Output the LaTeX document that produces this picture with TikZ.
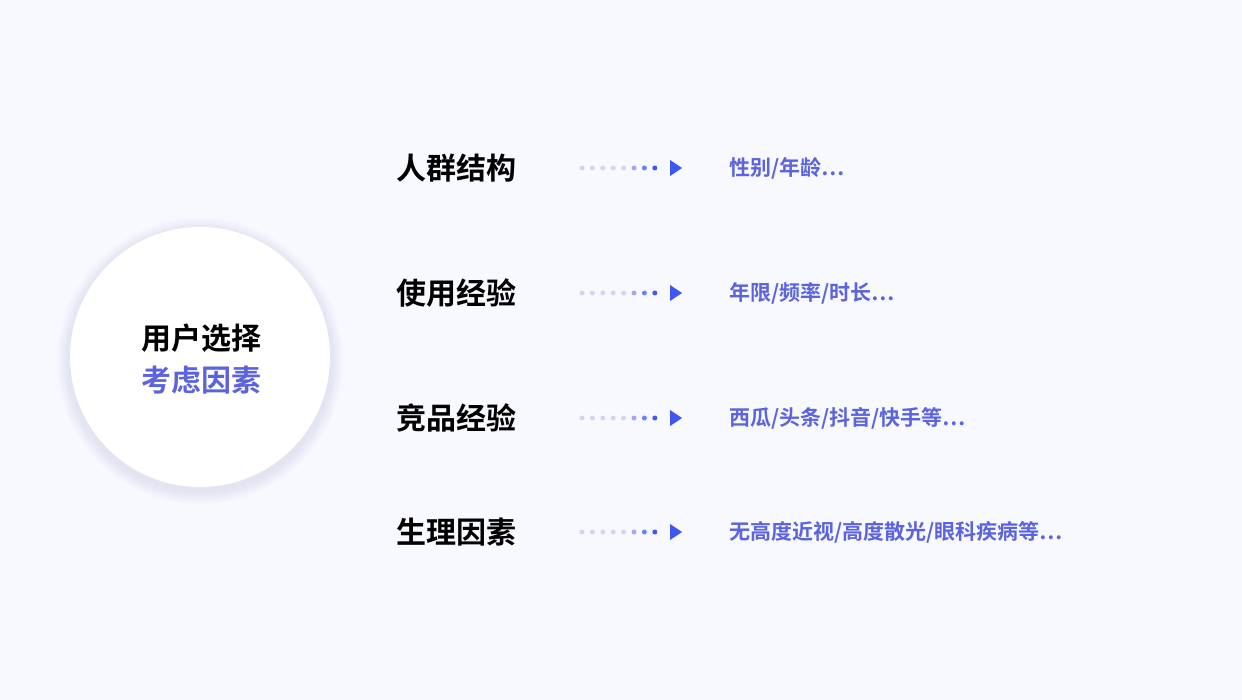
\documentclass[tikz,border=0pt]{standalone}
\usepackage{fontspec}
\newfontfamily\cjk{Noto Sans CJK SC}[BoldFont={Noto Sans CJK SC Bold}]
\usetikzlibrary{calc}
\definecolor{bg}{HTML}{F8F9FE}
\definecolor{txtblue}{HTML}{5B63DE}
\definecolor{arrblue}{HTML}{3D57F0}
\definecolor{dotlight}{HTML}{D6D3F5}
\definecolor{shad}{HTML}{C8CCE8}
\tikzset{
  x=1pt,y=-1pt,
  cat/.style={anchor=west,font=\cjk\bfseries\fontsize{30}{32}\selectfont,text=black,inner sep=0},
  det/.style={anchor=west,font=\cjk\bfseries\fontsize{21}{24}\selectfont,text=txtblue,inner sep=0}
}
\begin{document}
\begin{tikzpicture}
\fill[bg] (0,0) rectangle (1242,700);
\useasboundingbox (0,0) rectangle (1242,700);
\foreach \r in {1,...,12}{\fill[shad,opacity=0.035] (200,361) circle (130+\r*1.1);}
\node[circle,fill=white,minimum size=260,inner sep=0] (c) at (200,357) {};
\node[font=\cjk\bfseries\fontsize{30}{32}\selectfont,inner sep=0] (t1) at (201,338) {用户选择};
\node[font=\cjk\bfseries\fontsize{30}{32}\selectfont,text=txtblue,inner sep=0] (t2) at (201,380) {考虑因素};
\foreach \y/\a/\b [count=\i] in {168/人群结构/{性别/年龄…},293/使用经验/{年限/频率/时长…},418/竞品经验/{西瓜/头条/抖音/快手等…},532/生理因素/{无高度近视/高度散光/眼科疾病等…}}{
  \node[cat] (k\i) at (396,\y) {\a};
  \node[det] (d\i) at (729,\y) {\b};
  \foreach \j in {0,...,7}{
    \pgfmathsetmacro{\m}{\j<5 ? 0 : (\j-4)*33}
    \fill[arrblue!\m!dotlight] (582+\j*10.4,\y) circle (2.5);
  }
  \coordinate (a\i) at (670,\y);
  \fill[arrblue] ($(a\i)+(0,-8)$) -- ($(a\i)+(12,0)$) -- ($(a\i)+(0,8)$) -- cycle;
}
\end{tikzpicture}
\end{document}
